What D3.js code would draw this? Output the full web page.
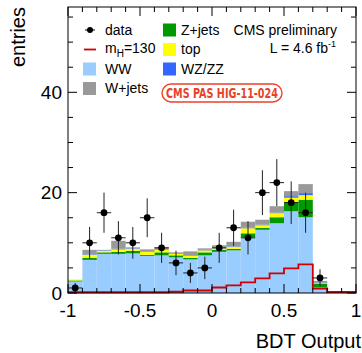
<!DOCTYPE html>
<html><head><meta charset="utf-8">
<script src="https://cdn.jsdelivr.net/npm/d3@7"></script>
<style>
html,body{margin:0;padding:0;background:#fff;}
svg{display:block;font-family:"Liberation Sans",Arial,Helvetica,sans-serif;}
</style></head>
<body><svg id="c" width="362" height="353"></svg>
<script>
// ---- data ----
const binCenters = [-0.95,-0.85,-0.75,-0.65,-0.55,-0.45,-0.35,-0.25,-0.15,-0.05,0.05,0.15,0.25,0.35,0.45,0.55,0.65,0.75,0.85,0.95];
const binWidth = 0.1;
const ww    = [2.3,6.6,7.8,7.8,7.9,7.4,7.5,7.1,6.7,7.5,8.2,8.5,11.1,12.6,13.9,16.3,15.1,1.2,0,0];
const zjets = [0.2,0.4,0.3,0.4,0.5,0.2,0.6,0.4,0.3,0.6,0.4,0.3,0.8,0.4,1.2,1.9,3.5,0.7,0,0];
const top_  = [0.2,0.6,0.3,0.5,0.4,0.6,0.5,0.3,0.4,0.4,0.3,0.4,1.0,0.5,0.8,0.8,0.9,0.1,0,0];
const wzzz  = [0,0.1,0.1,0.1,0.1,0.1,0.1,0.1,0.1,0.1,0.1,0.1,0.1,0.1,0.1,0.3,0.4,0.1,0,0];
const wjets = [0,0.9,0.1,1.6,0.2,0.4,0.4,0.2,0.8,0.3,0.5,0.9,1.2,1.0,1.3,1.0,1.8,0.3,0,0];
const dataVals = [1,10,16,11,10,15,9,6,4,5,9,13,11,20,22,18,16,3,0,0];
const signal = [0.15,0.15,0.15,0.15,0.15,0.15,0.15,0.25,0.5,0.5,1.1,1.5,2.1,2.9,3.9,4.9,5.7,0.9,0.2,0.2];
const xTickValues = [-1,-0.5,0,0.5,1];
const xTickLabels = ["-1","-0.5","0","0.5","1"];
const yTickValues = [0,20,40];
const yTickLabels = ["0","20","40"];
const xDomain = [-1,1];
const yDomain = [0,57];

// ---- layout ----
const svg = d3.select("#c");
const L=68, R=356, T=7, B=293;
const x = d3.scaleLinear().domain(xDomain).range([L,R]);
const y = d3.scaleLinear().domain(yDomain).range([B,T]);

const keys = ["ww","zjets","top","wzzz","wjets"];
const colors = {ww:"#99ccff", zjets:"#009a00", top:"#ffff00", wzzz:"#3366ff", wjets:"#999999"};
const rows = binCenters.map((c,i)=>({c, ww:ww[i], zjets:zjets[i], top:top_[i], wzzz:wzzz[i], wjets:wjets[i]}));
const stacked = d3.stack().keys(keys)(rows);

const g = svg.append("g");
stacked.forEach(layer=>{
  g.append("g").selectAll("rect").data(layer).enter().append("rect")
    .attr("x", d=>x(d.data.c-binWidth/2))
    .attr("width", d=>x(d.data.c+binWidth/2)-x(d.data.c-binWidth/2))
    .attr("y", d=>y(d[1]))
    .attr("height", d=>Math.max(0,y(d[0])-y(d[1])))
    .attr("fill", colors[layer.key]);
});

// signal step line
const sigPts = binCenters.map((c,i)=>[c-binWidth/2, signal[i]]);
sigPts.push([binCenters[binCenters.length-1]+binWidth/2, signal[signal.length-1]]);
svg.append("path")
  .attr("d", d3.line().x(d=>x(d[0])).y(d=>y(d[1])).curve(d3.curveStepAfter)(sigPts))
  .attr("fill","none").attr("stroke","#d00000").attr("stroke-width",1.8);

// data points
const dg = svg.append("g");
binCenters.forEach((c,i)=>{
  const v = dataVals[i];
  if (v<=0) return;
  const e = Math.sqrt(v);
  dg.append("line").attr("x1",x(c)).attr("x2",x(c)).attr("y1",y(Math.max(0,v-e))).attr("y2",y(v+e))
    .attr("stroke","#222").attr("stroke-width",1);
  dg.append("line").attr("x1",x(c-binWidth/2)).attr("x2",x(c+binWidth/2)).attr("y1",y(v)).attr("y2",y(v))
    .attr("stroke","#222").attr("stroke-width",1);
  dg.append("circle").attr("cx",x(c)).attr("cy",y(v)).attr("r",3.4).attr("fill","#000");
});

// frame
svg.append("rect").attr("x",L).attr("y",T).attr("width",R-L).attr("height",B-T)
  .attr("fill","none").attr("stroke","#000").attr("stroke-width",1);

// ticks (inside, all four sides)
const ax = svg.append("g").attr("stroke","#000").attr("stroke-width",1);
const xMinor = d3.range(-10,11).map(k=>k/10);
xMinor.forEach(v=>{
  const major = xTickValues.some(t=>Math.abs(t-v)<1e-9);
  const len = major?9:5;
  ax.append("line").attr("x1",x(v)).attr("x2",x(v)).attr("y1",B).attr("y2",B-len);
  ax.append("line").attr("x1",x(v)).attr("x2",x(v)).attr("y1",T).attr("y2",T+len);
});
const yMinor = d3.range(0,56,5);
yMinor.forEach(v=>{
  const major = yTickValues.includes(v);
  const len = major?9:5;
  ax.append("line").attr("x1",L).attr("x2",L+len).attr("y1",y(v)).attr("y2",y(v));
  ax.append("line").attr("x1",R).attr("x2",R-len).attr("y1",y(v)).attr("y2",y(v));
});

// tick labels
xTickValues.forEach((v,i)=>{
  svg.append("text").attr("x",x(v)).attr("y",316.5).attr("text-anchor","middle")
    .attr("font-size",19).text(xTickLabels[i]);
});
yTickValues.forEach((v,i)=>{
  svg.append("text").attr("x",62).attr("y",y(v)+6.8).attr("text-anchor","end")
    .attr("font-size",19).text(yTickLabels[i]);
});

// axis titles
svg.append("text").attr("x",361).attr("y",348).attr("text-anchor","end").attr("font-size",20).text("BDT Output");
svg.append("text").attr("transform","translate(25,7) rotate(-90)").attr("text-anchor","end")
  .attr("font-size",20).text("entries");

// legend
const lg = svg.append("g").attr("font-size",14);
const rowY = [30,49.5,69,88.5];
// data
lg.append("line").attr("x1",85).attr("x2",95).attr("y1",rowY[0]).attr("y2",rowY[0]).attr("stroke","#000");
lg.append("circle").attr("cx",90).attr("cy",rowY[0]).attr("r",3).attr("fill","#000");
lg.append("text").attr("x",105).attr("y",rowY[0]+4.5).text("data");
// mH
lg.append("line").attr("x1",84).attr("x2",96).attr("y1",rowY[1]).attr("y2",rowY[1]).attr("stroke","#d00000").attr("stroke-width",1.8);
const mt = lg.append("text").attr("x",105).attr("y",rowY[1]+3);
mt.append("tspan").text("m");
mt.append("tspan").attr("dy",4).attr("font-size",10).text("H");
mt.append("tspan").attr("dy",-4).text("=130");
// boxes
const legendBoxes = [
  {k:"ww", label:"WW", bx:83, tx:105, row:2},
  {k:"wjets", label:"W+jets", bx:83, tx:105, row:3},
  {k:"zjets", label:"Z+jets", bx:163, tx:181, row:0},
  {k:"top", label:"top", bx:163, tx:181, row:1},
  {k:"wzzz", label:"WZ/ZZ", bx:163, tx:181, row:2}
];
legendBoxes.forEach(b=>{
  lg.append("rect").attr("x",b.bx).attr("y",rowY[b.row]-6.5).attr("width",13).attr("height",13).attr("fill",colors[b.k]);
  lg.append("text").attr("x",b.tx).attr("y",rowY[b.row]+4.5).text(b.label);
});
lg.append("text").attr("x",337).attr("y",35).attr("text-anchor","end").text("CMS preliminary");
const lt = lg.append("text").attr("x",336).attr("y",53).attr("text-anchor","end");
lt.append("tspan").text("L = 4.6 fb");
lt.append("tspan").attr("dy",-6).attr("font-size",9).text("-1");

// CMS PAS badge
svg.append("rect").attr("x",162).attr("y",84).attr("width",120).attr("height",18).attr("rx",9)
  .attr("fill","#fff").attr("stroke","#e8432a").attr("stroke-width",1.4);
svg.append("text").attr("x",222).attr("y",98).attr("text-anchor","middle")
  .attr("font-family","'Liberation Sans Narrow','DejaVu Sans Condensed',sans-serif")
  .attr("font-weight","bold").attr("font-size",14).attr("fill","#e8432a")
  .attr("textLength",112).attr("lengthAdjust","spacingAndGlyphs").text("CMS PAS HIG-11-024");
</script></body></html>
